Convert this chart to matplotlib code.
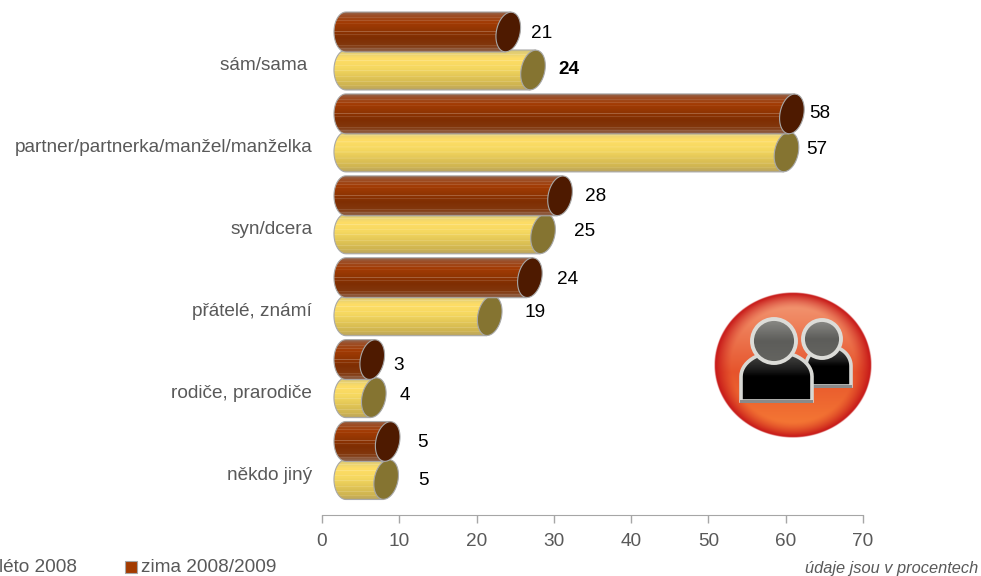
import numpy as np
import matplotlib
matplotlib.use("Agg")
import matplotlib.pyplot as plt
from matplotlib.colors import LinearSegmentedColormap, to_rgb
from matplotlib.patches import Polygon, Rectangle, Circle

plt.rcParams['font.family'] = ['Liberation Sans', 'DejaVu Sans']

# ---- data
categories = ["sám/sama\u00a0", "partner/partnerka/manžel/manželka", "syn/dcera",
              "přátelé, známí", "rodiče, prarodiče", "někdo jiný"]
winter_values = [21.0, 57.7, 27.7, 23.8, 3.4, 5.4]
summer_values = [24.2, 57.0, 25.5, 18.6, 3.6, 5.2]
winter_labels = ["21", "58", "28", "24", "3", "5"]
summer_labels = ["24", "57", "25", "19", "4", "5"]
x_ticks = [0, 10, 20, 30, 40, 50, 60, 70]

# ---- layout (pixels)
W, H = 981, 576
AX_L, AX_R, AX_B = 322, 863, 514.5
GROUP_0, GROUP_STEP = 51.0, 81.9
ROW_OFF = 19.0
BAR_A, BAR_B = 20.0, 12.0
TILT = np.radians(8)
BASE = 3.1
winter_dx = [33, 28, 36, 38, 26, 35]
winter_dy = [1, 0, 1, 2, 6, 1]
summer_dx = [36, 30, 42, 45, 31, 37]
summer_dy = [-1, -2, -2, -3, -2, 1]
GREY = '#595959'
FS = 13.7

fig = plt.figure(figsize=(W / 100, H / 100), dpi=100)
ax = fig.add_axes([AX_L / W, 1 - AX_B / H, (AX_R - AX_L) / W, AX_B / H])
x_max = 70
ux = (AX_R - AX_L) / x_max
uy = GROUP_STEP
y_top = -GROUP_0 / uy
y_bot = (AX_B - GROUP_0) / uy


def grad(stops, stripes, n=40):
    cm = LinearSegmentedColormap.from_list('g', stops)
    arr = cm(np.linspace(0, 1, n))[:, :3]
    for row, amt in stripes:
        arr[row] = arr[row] + (1 - arr[row]) * amt
    return arr[:, None, :]


winter_img = grad([(0, '#93634a'), (.07, '#9c4f28'), (.25, '#a33c04'), (.5, '#8c3302'),
                   (.65, '#7f2e02'), (.85, '#82380e'), (1, '#91664f')],
                  [(5, .10), (8, .12), (11, .06), (19, .22), (22, .12), (33, .12), (36, .10)])
summer_img = grad([(0, '#d8c878'), (.2, '#fedd66'), (.45, '#f5d860'), (.7, '#dfc355'),
                   (.9, '#cdb250'), (1, '#b9a465')],
                  [(4, .15), (10, .18), (15, .12), (20, .15), (26, .12), (31, .14), (35, .1)])


def cyl(v, yc, img, cap, z):
    end = BASE + v
    top_dx = BAR_A * np.sin(TILT)
    t = np.linspace(np.pi / 2, 3 * np.pi / 2, 30)
    xs = BASE + BAR_B * np.cos(t) / ux
    ys = yc - BAR_A * np.sin(t) / uy
    pts = list(zip(xs, ys))
    pts += [(end - top_dx / ux, yc + BAR_A / uy), (end + top_dx / ux, yc - BAR_A / uy)]
    body = Polygon(pts, closed=True, facecolor='none', edgecolor='#a8a8a8', lw=0.8, zorder=z + .2)
    ax.add_patch(body)
    im = ax.imshow(img, extent=(BASE - 2, end + 2, yc + BAR_A / uy, yc - BAR_A / uy),
                   aspect='auto', interpolation='bilinear', zorder=z)
    im.set_clip_path(body)
    t = np.linspace(0, 2 * np.pi, 80)
    dx = BAR_B * np.cos(t) - BAR_A * np.sin(t) * np.sin(TILT)
    dy = BAR_A * np.sin(t) * np.cos(TILT)
    ax.add_patch(Polygon(np.c_[end + dx / ux, yc + dy / uy], closed=True, facecolor=cap,
                         edgecolor='#a8a8a8', lw=0.8, zorder=z + .3))


for i in range(len(categories)):
    yw = i - ROW_OFF / uy
    ys_ = i + ROW_OFF / uy
    cyl(summer_values[i], ys_, summer_img, '#857431', 2 + i)
    cyl(winter_values[i], yw, winter_img, '#4e1a00', 2.5 + i)
    ax.annotate(winter_labels[i], (BASE + winter_values[i], yw), xytext=(winter_dx[i], -winter_dy[i]),
                textcoords='offset pixels', ha='center', va='center', fontsize=FS, color='black', zorder=20)
    ax.annotate(summer_labels[i], (BASE + summer_values[i], ys_), xytext=(summer_dx[i], -summer_dy[i]),
                textcoords='offset pixels', ha='center', va='center', fontsize=FS, color='black',
                fontweight='bold' if i == 0 else 'normal', zorder=20)

ax.set_xlim(0, x_max)
ax.set_ylim(y_bot, y_top)
ax.set_xticks(x_ticks)
ax.set_yticks(np.arange(len(categories)) + 13 / uy)
ax.set_yticklabels(categories, fontsize=FS, color=GREY)
ax.tick_params(axis='y', length=0, pad=7)
ax.tick_params(axis='x', length=6, width=1, color='#a6a6a6', labelsize=FS, labelcolor=GREY, pad=7)
for s in ['top', 'left', 'right']:
    ax.spines[s].set_visible(False)
ax.spines['bottom'].set_color('#a6a6a6')
ax.patch.set_alpha(0)

# ---- legend and note
fig.text(-1 / W, 1 - 567 / H, "léto 2008", fontsize=FS, color=GREY, ha='left', va='center')
fig.add_artist(Rectangle((124.5 / W, 1 - 573 / H), 12 / W, 12 / H, transform=fig.transFigure,
                         facecolor='#a33b00', edgecolor='#a6a6a6', lw=0.8))
fig.text(141 / W, 1 - 567 / H, "zima 2008/2009", fontsize=FS, color=GREY, ha='left', va='center')
fig.text(978 / W, 1 - 569 / H, "údaje jsou v procentech", fontsize=11.8, style='italic', color=GREY,
         ha='right', va='center')

# ---- decorative icon, drawn in pixel coordinates
ic = fig.add_axes([0, 0, 1, 1], zorder=5)
ic.axis('off')
CX, CY, RX, RY = 793, 365, 79, 73
yy, xx = np.mgrid[-1:1:300j, -1:1:300j]
r = np.hypot(xx, yy)
img = np.zeros((300, 300, 4))
top = np.array(to_rgb('#f4a07c'))
mid = np.array(to_rgb('#e6542c'))
bot = np.array(to_rgb('#f88036'))
edge = np.array(to_rgb('#c81c1a'))
v = (yy + 1) / 2
for c in range(3):
    base = np.where(v < .55, top[c] + (mid[c] - top[c]) * v / .55,
                    mid[c] + (bot[c] - mid[c]) * (v - .55) / .45)
    e = np.clip((r - .78) / .2, 0, 1) ** 1.3
    img[..., c] = base + (edge[c] - base) * e
img[..., 3] = np.clip((1 - r) * 80, 0, 1)
ic.imshow(img, extent=(CX - RX, CX + RX, CY + RY, CY - RY), aspect='auto', zorder=1, interpolation='bilinear')


def person(hx, hy, hr, l, r_, shoulder, bottom, z):
    w = (r_ - l) / 2
    mid_x = (l + r_) / 2
    t = np.linspace(np.pi, 2 * np.pi, 30)
    arc_h = (bottom - shoulder) * .5
    pts = np.c_[mid_x + w * np.cos(t), shoulder + arc_h + arc_h * np.sin(t)]
    pts = np.vstack([[l, bottom], pts, [r_, bottom]])
    body = Polygon(pts, closed=True, facecolor='none', edgecolor='#d8d8d4', lw=2.6, zorder=z + .2)
    ic.add_patch(body)
    bimg = np.linspace(0, 1, 30)[:, None]
    cm = LinearSegmentedColormap.from_list('b', [(0, '#4a4a48'), (.35, '#1c1c1c'), (.5, '#000000'), (1, '#000000')])
    im = ic.imshow(bimg, cmap=cm, extent=(l, r_, bottom, shoulder), aspect='auto', zorder=z)
    im.set_clip_path(body)
    ic.add_patch(Rectangle((l - 1, bottom - 1), r_ - l + 2, 2.5, facecolor='#8a8a8a', edgecolor='none', zorder=z + .3))
    head = Circle((hx, hy), hr, facecolor='none', edgecolor='#dcdcd8', lw=2.8, zorder=z + .5)
    ic.add_patch(head)
    himg = np.linspace(0, 1, 30)[:, None]
    cm2 = LinearSegmentedColormap.from_list('h', ['#8a8a86', '#5d5d5a', '#646460'])
    im2 = ic.imshow(himg, cmap=cm2, extent=(hx - hr, hx + hr, hy + hr, hy - hr), aspect='auto', zorder=z + .4)
    im2.set_clip_path(head)


person(822, 339, 19, 806, 851, 346, 386, 2)
person(774, 341, 22, 741, 812, 352, 401, 4)
ic.set_xlim(0, W)
ic.set_ylim(H, 0)

fig.savefig("out.png", dpi=100)
